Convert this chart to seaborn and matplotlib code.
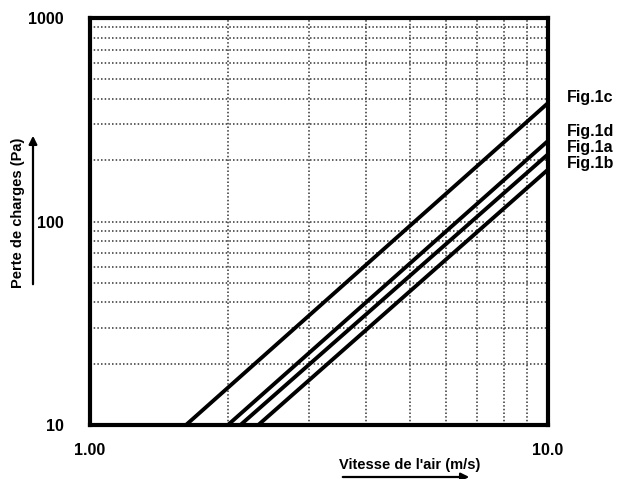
import seaborn as sns
import matplotlib.pyplot as plt
import pandas as pd
import numpy as np

# two points read per curve (straight lines on log-log)
fig1c_v = [1.62, 10.0]
fig1c_p = [10.0, 382.0]
fig1d_v = [2.00, 10.0]
fig1d_p = [10.0, 249.0]
fig1a_v = [2.13, 10.0]
fig1a_p = [10.0, 214.0]
fig1b_v = [2.33, 10.0]
fig1b_p = [10.0, 180.0]

series = ['Fig.1c', 'Fig.1d', 'Fig.1a', 'Fig.1b']
label_p = [405, 276, 231, 193]  # where each name sits on the right

y_ticks = [10, 100, 1000]
y_ticklabels = ['10', '100', '1000']
x_ticks = [1, 10]
x_ticklabels = ['1.00', '10.0']


def run():
    rows = []
    for name, vs, ps in zip(series, [fig1c_v, fig1d_v, fig1a_v, fig1b_v],
                            [fig1c_p, fig1d_p, fig1a_p, fig1b_p]):
        for v, p in zip(vs, ps):
            rows.append({'courbe': name, 'vitesse': v, 'perte': p})
    df = pd.DataFrame(rows)

    sns.set_style('white')
    plt.rcParams['font.family'] = ['Liberation Sans', 'DejaVu Sans']
    plt.rcParams['text.color'] = 'black'
    plt.rcParams['xtick.color'] = 'black'
    plt.rcParams['ytick.color'] = 'black'
    fig = plt.figure(figsize=(6.17, 4.79), dpi=100)
    ax = fig.add_axes([90 / 617, 1 - 425 / 479, 458 / 617, 407 / 479])

    sns.lineplot(data=df, x='vitesse', y='perte', hue='courbe',
                 palette=['black'] * 4, linewidth=2.8, legend=False, ax=ax)
    ax.set_xscale('log')
    ax.set_yscale('log')
    ax.set_xlim(1, 10)
    ax.set_ylim(10, 1000)

    # dotted grid
    for x in range(2, 10):
        ax.axvline(x, color='#333333', linestyle=(0, (1, 1.4)), linewidth=1.1, zorder=0)
    for y in list(range(20, 100, 10)) + [100] + list(range(200, 1000, 100)):
        ax.axhline(y, color='#333333', linestyle=(0, (1, 1.4)), linewidth=1.1, zorder=0)

    ax.set_xticks(x_ticks)
    ax.set_xticklabels(x_ticklabels, fontsize=11.5, fontweight='bold')
    ax.set_yticks(y_ticks)
    ax.set_yticklabels(y_ticklabels, fontsize=11.5, fontweight='bold')
    ax.minorticks_off()
    ax.tick_params(axis='x', length=0, pad=13, labelcolor='black')
    ax.tick_params(axis='y', length=0, pad=19, labelcolor='black')
    ax.set_xlabel('')
    ax.set_ylabel('')
    for s in ax.spines.values():
        s.set_visible(True)
        s.set_linewidth(3)
        s.set_color('black')

    for name, p in zip(series, label_p):
        ax.text(11.0, p, name, fontsize=11.5, fontweight='bold', color='black',
                va='center', ha='left', clip_on=False)

    fig.text(410 / 617, 1 - 465 / 479, "Vitesse de l'air (m/s)", fontsize=10.5,
             fontweight='bold', ha='center', va='center', color='black')
    ax.annotate('', xy=(472 / 617, 1 - 477 / 479), xytext=(340 / 617, 1 - 477 / 479),
                xycoords='figure fraction', textcoords='figure fraction',
                arrowprops=dict(arrowstyle='-|>', color='black', lw=1.6,
                                mutation_scale=12))
    fig.text(18 / 617, 1 - 213 / 479, 'Perte de charges (Pa)', fontsize=10.5,
             fontweight='bold', ha='center', va='center', rotation=90, color='black')
    ax.annotate('', xy=(33 / 617, 1 - 133 / 479), xytext=(33 / 617, 1 - 287 / 479),
                xycoords='figure fraction', textcoords='figure fraction',
                arrowprops=dict(arrowstyle='-|>', color='black', lw=1.6,
                                mutation_scale=12))

    fig.savefig('out.png', dpi=100)


run()
